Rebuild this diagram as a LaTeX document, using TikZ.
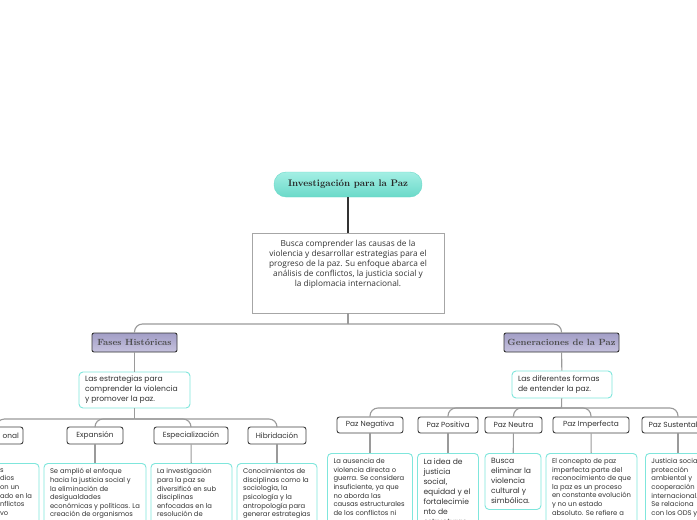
\documentclass[tikz,border=0pt]{standalone}
\usepackage{fontspec}
\newfontfamily\osans{Open Sans}
\newfontfamily\pop{Poppins}
\definecolor{connc}{HTML}{9A9A9A}
\definecolor{aqua}{HTML}{7FE6DC}
\definecolor{tealtop}{HTML}{A4EFE4}
\definecolor{tealbot}{HTML}{6AD9C9}
\definecolor{lavtop}{HTML}{A29EC6}
\definecolor{lavbot}{HTML}{C6C2DE}
\definecolor{txt}{HTML}{333333}
\begin{document}
\begin{tikzpicture}[x=1pt,y=-1pt,
  conn/.style={draw=connc, line width=1.1pt},
  titlebox/.style={rounded corners=12pt, top color=tealtop, bottom color=tealbot, draw=tealbot, minimum width=148pt, minimum height=25pt, inner sep=0pt, font=\fontsize{9.5}{11}\selectfont\bfseries, text=black!85},
  mainbox/.style={draw=gray!70, fill=white, line width=0.8pt, inner sep=4pt, font=\osans\fontsize{8.3}{10}\selectfont, text=txt},
  phase/.style={draw=black!80, line width=0.9pt, rounded corners=2pt, top color=lavtop, bottom color=lavbot, minimum height=19pt, inner sep=0pt, font=\fontsize{9}{10}\selectfont\bfseries, text=black!70},
  aqbox/.style={draw=aqua, line width=0.9pt, rounded corners=4pt, fill=white, inner xsep=6pt, inner ysep=5pt, text=txt},
  small/.style={font=\pop\fontsize{6.8}{8.6}\selectfont},
  big/.style={font=\pop\fontsize{7.6}{10}\selectfont},
  child/.style={draw=black!75, line width=0.9pt, rounded corners=2.5pt, fill=white, minimum height=17pt, inner sep=0pt, font=\pop\fontsize{7.4}{8}\selectfont, text=txt},
  bus/.style={conn, rounded corners=8pt}
]
\useasboundingbox (0,0) rectangle (697,520);
\fill[white] (0,0) rectangle (697,520);
\clip (0,0) rectangle (697,520);

\node[titlebox] (title) at (348,184.5) {Investigación para la Paz};
\node[mainbox] (main) at (348,273) {\begin{minipage}[t][72pt][t]{184pt}\centering\vspace*{3pt}
Busca comprender las causas de la\\violencia y desarrollar estrategias para el\\progreso de la paz. Su enfoque abarca el\\análisis de conflictos, la justicia social y\\la diplomacia internacional.\end{minipage}};
\draw[line width=1.3pt, draw=black!80] (title) -- (main);

\coordinate (b0) at (348,324);
\draw[conn] (main) -- (b0);
\node[phase, minimum width=85pt] (fases) at (134.5,342.5) {Fases Históricas};
\node[phase, minimum width=115pt] (gen) at (561.5,342.5) {Generaciones de la Paz};
\draw[bus] (b0) -| (fases.north);
\draw[bus] (b0) -| (gen.north);

% left branch
\node[aqbox, big, minimum width=111pt, minimum height=36pt, inner sep=0pt] (strat1) at (134.5,390) {\begin{minipage}{99pt}Las estrategias para\\comprender la violencia\\y promover la paz.\end{minipage}};
\draw[conn] (fases) -- (strat1);
\coordinate (b1) at (134.5,419);
\draw[conn] (strat1) -- (b1);

\node[child, minimum width=53pt, text width=45pt, align=right] (fund) at (-3.5,435.5) {onal};
\node[child, minimum width=56pt] (exp) at (95,435.5) {Expansión};
\node[child, minimum width=74pt] (esp) at (191,435.5) {Especialización};
\node[child, minimum width=58pt] (hib) at (277,435.5) {Hibridación};
\foreach \c in {fund,exp,esp,hib} \draw[bus] (b1) -| (\c.north);

\node[aqbox, small, anchor=north, minimum width=79pt] (fundd) at (-0.5,463) {\begin{minipage}[t][70pt][t]{67pt}\leftskip=34pt\parindent=0pt s\\dios\\on un\\ado en la\\nflictos\\vo\end{minipage}};
\node[aqbox, small, anchor=north, minimum width=102pt] (expd) at (95,463) {\begin{minipage}[t][70pt][t]{90pt}Se amplió el enfoque\\hacia la justicia social y\\la eliminación de\\desigualdades\\económicas y políticas. La\\creación de organismos\end{minipage}};
\node[aqbox, small, anchor=north, minimum width=81pt] (espd) at (191.5,463) {\begin{minipage}[t][70pt][t]{69pt}La investigación\\para la paz se\\diversificó en sub\\disciplinas\\enfocadas en la\\resolución de\end{minipage}};
\node[aqbox, small, anchor=north, minimum width=80pt] (hibd) at (277,463) {\begin{minipage}[t][70pt][t]{68pt}Conocimientos de\\disciplinas como la\\sociología, la\\psicología y la\\antropología para\\generar estrategias\end{minipage}};
\draw[conn] (fund) -- (fund |- fundd.north);
\draw[conn] (exp) -- (expd);
\draw[conn] (esp) -- (espd);
\draw[conn] (hib) -- (hibd);

% right branch
\node[aqbox, big, minimum width=100pt, minimum height=27pt, inner sep=0pt] (strat2) at (562,384.5) {\begin{minipage}{88pt}Las diferentes formas\\de entender la paz.\end{minipage}};
\draw[conn] (gen) -- (strat2);
\coordinate (b2) at (561.5,408);
\draw[conn] (strat2) -- (b2);

\node[child, minimum width=66pt, minimum height=16pt] (neg) at (370,425) {Paz Negativa};
\node[child, minimum width=60pt, minimum height=16pt] (pos) at (448,425) {Paz Positiva};
\node[child, minimum width=57pt, minimum height=16pt] (neu) at (513.5,425) {Paz Neutra};
\node[child, minimum width=76pt, minimum height=16pt] (imp) at (591,425) {Paz Imperfecta};
\node[child, minimum width=72pt, minimum height=16pt] (sus) at (678,425) {Paz Sustentable};
\foreach \c in {neg,pos,neu,imp,sus} \draw[bus] (b2) -| (\c.north);

\node[aqbox, small, anchor=north, minimum width=85pt] (negd) at (370,453) {\begin{minipage}[t][75pt][t]{73pt}La ausencia de\\violencia directa o\\guerra. Se considera\\insuficiente, ya que\\no aborda las\\causas estructurales\\de los conflictos ni\end{minipage}};
\node[aqbox, big, anchor=north, minimum width=61pt] (posd) at (448,453) {\begin{minipage}[t][75pt][t]{49pt}La idea de\\justicia\\social,\\equidad y el\\fortalecimie\\nto de\\estructuras\end{minipage}};
\node[aqbox, big, anchor=north, minimum width=56pt] (neud) at (513,453) {\begin{minipage}[t][46pt][t]{44pt}Busca\\eliminar la\\violencia\\cultural y\\simbólica.\end{minipage}};
\node[aqbox, small, anchor=north, minimum width=91pt] (impd) at (591.5,453) {\begin{minipage}[t][75pt][t]{79pt}El concepto de paz\\imperfecta parte del\\reconocimiento de que\\la paz es un proceso\\en constante evolución\\y no un estado\\absoluto. Se refiere a\end{minipage}};
\node[aqbox, small, anchor=north west, minimum width=80pt] (susd) at (645,453) {\begin{minipage}[t][75pt][t]{68pt}Justicia social,\\protección\\ambiental y\\cooperación\\internacional.\\Se relaciona\\con los ODS y\end{minipage}};
\draw[conn] (neg) -- (negd);
\draw[conn] (pos) -- (posd);
\draw[conn] (neu) -- (neud);
\draw[conn] (imp) -- (impd);
\draw[conn] (sus) -- (sus |- susd.north);
\end{tikzpicture}
\end{document}
